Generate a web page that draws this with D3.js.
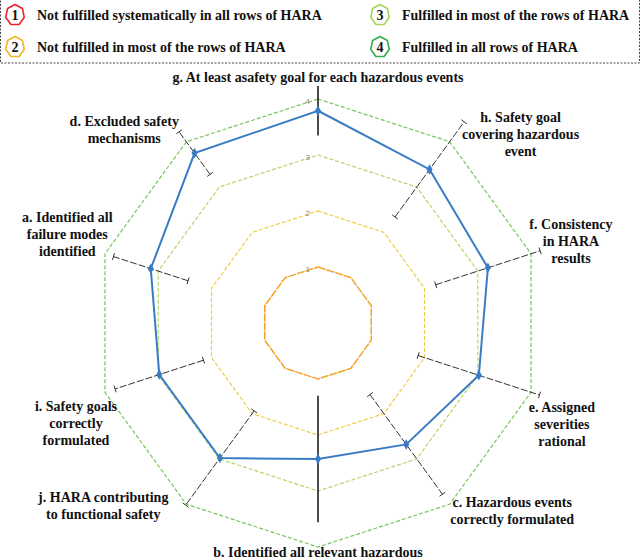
<!DOCTYPE html>
<html><head><meta charset="utf-8">
<script src="https://cdn.jsdelivr.net/npm/d3@7"></script>
</head>
<body style="margin:0">
<svg id="chart" width="640" height="560"></svg>
<script>
// ---------- data ----------
const categories = ["g","h","f","e","c","b","j","i","a","d"];
const categoryLabels = [
  ["g. At least asafety goal for each hazardous events"],
  ["h. Safety goal","covering hazardous","event"],
  ["f. Consistency","in HARA","results"],
  ["e. Assigned","severities","rational"],
  ["c. Hazardous events","correctly formulated"],
  ["b. Identified all relevant hazardous"],
  ["j. HARA contributing","to functional safety"],
  ["i. Safety goals","correctly","formulated"],
  ["a. Identified all","failure modes","identified"],
  ["d. Excluded safety","mechanisms"]
];
const meanValues = [3.79, 3.39, 3.19, 3.02, 2.68, 2.43, 2.98, 2.98, 3.14, 3.75];
const errorValues = [0.44, 1.05, 0.98, 1.14, 1.10, 1.13, 1.04, 0.83, 0.70, 0.47];
const levels = [1, 2, 3, 4];
const levelTickLabels = ["1", "2", "3", "4"];
const legendNumbers = ["1", "2", "3", "4"];
const legendTexts = [
  "Not fulfilled systematically in all rows of HARA",
  "Not fulfilled in most of the rows of HARA",
  "Fulfilled in most of the rows of HARA",
  "Fulfilled in all rows of HARA"
];

// ---------- layout / style ----------
const W = 640, H = 560;
const cx = 318, cy = 323;
const SERIF = "'Liberation Serif'";
const levelColors = ["#f5a329", "#eccf45", "#b3d869", "#78c65f"];
const levelDash = ["8,1", "4,2", "4,2", "4,2"];
const legendColors = ["#e8232b", "#f4b425", "#a7d45b", "#2fae4c"];
const blue = "#3a7cc4";
// label placement: [angle in degrees clockwise from top, radius in px]
const labelLayout = [[0,246],[47,277],[72,266],[112.5,264],[134,270],[180,229],[229.6,282],[247.5,262],[289.5,266],[315,274]];
const fontSize = 14, lineH = 17;

const svg = d3.select("#chart");

const r = d3.scaleLinear().domain([0, 4]).range([0, 224]);
const angle = d3.scalePoint().domain(categories).range([0, 2 * Math.PI * (categories.length - 1) / categories.length]);

const g = svg.append("g").attr("transform", `translate(${cx},${cy})`);
const polar = (a, rad) => [rad * Math.sin(a), -rad * Math.cos(a)];

// ---------- rings ----------
const ringLine = d3.lineRadial()
  .angle(d => angle(d.c))
  .radius(d => r(d.v))
  .curve(d3.curveLinearClosed);

levels.forEach((lv, i) => {
  g.append("path")
    .attr("d", ringLine(categories.map(c => ({c, v: lv}))))
    .attr("fill", "none")
    .attr("stroke", levelColors[i])
    .attr("stroke-width", i === 0 ? 1.5 : 1.2)
    .attr("stroke-dasharray", levelDash[i]);
  g.append("text")
    .attr("x", -8).attr("y", -r(lv) + 5)
    .attr("text-anchor", "end")
    .attr("font-size", 8)
    .style("font-family", "'Liberation Sans'")
    .attr("fill", "#8a8a8a")
    .text(levelTickLabels[i]);
});

// ---------- blue series ----------
const seriesData = categories.map((c, i) => ({c, v: meanValues[i], e: errorValues[i]}));
g.append("path")
  .attr("d", ringLine(seriesData))
  .attr("fill", "none")
  .attr("stroke", blue)
  .attr("stroke-width", 2);

// ---------- error bars ----------
seriesData.forEach(d => {
  const a = angle(d.c);
  const p1 = polar(a, r(d.v - d.e));
  const p2 = polar(a, r(d.v + d.e));
  const vertical = Math.abs(Math.sin(a)) < 1e-6;
  const eb = g.append("g")
    .attr("stroke", vertical ? "#000" : "#333")
    .attr("stroke-width", vertical ? 1.4 : 1);
  eb.append("line")
    .attr("x1", p1[0]).attr("y1", p1[1]).attr("x2", p2[0]).attr("y2", p2[1])
    .attr("stroke-dasharray", vertical ? null : "7,2");
  if (!vertical) {
    const px = Math.cos(a) * 3.5, py = Math.sin(a) * 3.5;
    [p1, p2].forEach(p => {
      eb.append("line")
        .attr("x1", p[0] - px).attr("y1", p[1] - py)
        .attr("x2", p[0] + px).attr("y2", p[1] + py);
    });
  }
});

// markers
g.selectAll("path.mk").data(seriesData).join("path")
  .attr("class", "mk")
  .attr("d", d3.symbol().type(d3.symbolDiamond).size(32))
  .attr("transform", d => {
    const p = polar(angle(d.c), r(d.v));
    return `translate(${p[0]},${p[1]})`;
  })
  .attr("fill", blue);

// ---------- category labels ----------
categories.forEach((c, i) => {
  const [deg, rad] = labelLayout[i];
  const p = polar(deg * Math.PI / 180, rad);
  const lines = categoryLabels[i];
  const y0 = p[1] - (lines.length - 1) * lineH / 2 + 5;
  lines.forEach((ln, k) => {
    g.append("text")
      .attr("x", p[0]).attr("y", y0 + k * lineH)
      .attr("text-anchor", "middle")
      .style("font-family", SERIF)
      .style("font-size", fontSize + "px")
      .style("font-weight", "bold")
      .attr("fill", "#111")
      .text(ln);
  });
});

// ---------- legend ----------
svg.append("rect")
  .attr("x", 0.5).attr("y", -2).attr("width", W - 1).attr("height", 65)
  .attr("fill", "none").attr("stroke", "#444").attr("stroke-width", 1)
  .attr("stroke-dasharray", "2,1.5");

const legendPos = [[15, 15], [15, 47], [380, 15], [380, 47]];
const hept = d3.range(7).map(k => {
  const a = k * 2 * Math.PI / 7;
  return [9.5 * Math.sin(a), -10.5 * Math.cos(a)];
});
legendNumbers.forEach((n, i) => {
  const [x, y] = legendPos[i];
  svg.append("path")
    .attr("transform", `translate(${x},${y})`)
    .attr("d", d3.line().curve(d3.curveLinearClosed)(hept))
    .attr("fill", "#fff").attr("stroke", legendColors[i]).attr("stroke-width", 1.6)
    .attr("stroke-linejoin", "round");
  svg.append("text").attr("x", x).attr("y", y + 5).attr("text-anchor", "middle")
    .style("font-family", SERIF).style("font-size", "14px").style("font-weight", "bold")
    .attr("fill", "#111").text(n);
  svg.append("text").attr("x", x + 22).attr("y", y + 5)
    .style("font-family", SERIF).style("font-size", "14px").style("font-weight", "bold")
    .attr("fill", "#111").text(legendTexts[i]);
});
</script>
</body></html>
